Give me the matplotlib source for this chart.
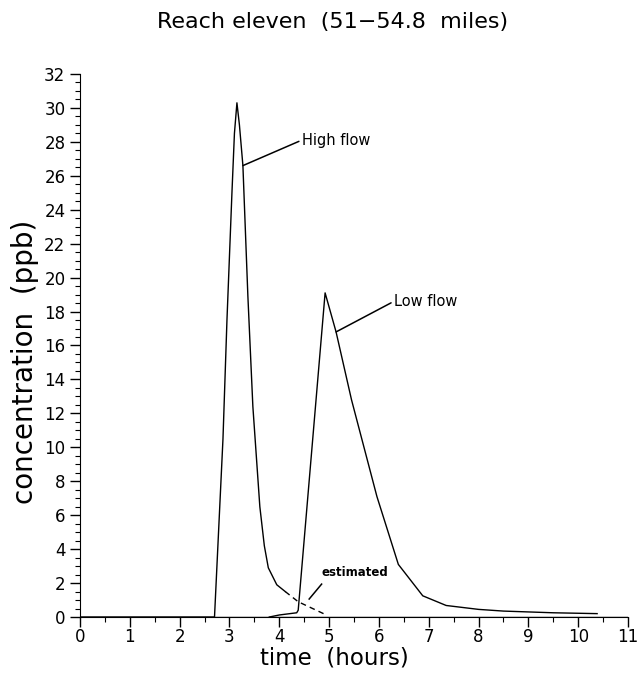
import matplotlib
matplotlib.use("Agg")
import matplotlib.pyplot as plt
from matplotlib.ticker import MultipleLocator

# High flow curve (measured)
high_t = [0.0, 2.70, 2.87, 2.95, 3.05, 3.10, 3.15, 3.20, 3.27, 3.37, 3.47, 3.61, 3.70, 3.78, 3.95, 4.12]
high_c = [0.0, 0.0, 10.5, 17.5, 25.0, 28.5, 30.3, 29.0, 26.6, 18.9, 12.4, 6.5, 4.2, 2.9, 1.9, 1.5]

# High flow tail (estimated, dashed)
est_t = [4.12, 4.38, 4.96]
est_c = [1.5, 0.9, 0.1]

# Low flow curve
low_t = [3.80, 4.00, 4.35, 4.38, 4.92, 5.14, 5.45, 5.96, 6.39, 6.88, 7.35, 8.0, 8.5, 9.0, 9.5, 10.38]
low_c = [0.0, 0.12, 0.25, 0.4, 19.1, 16.8, 12.8, 7.1, 3.1, 1.25, 0.68, 0.45, 0.35, 0.3, 0.25, 0.2]

fig = plt.figure(figsize=(6.43, 6.83), dpi=100)
ax = fig.add_axes([0.1244, 0.0966, 0.8523, 0.7951])

ax.plot(high_t, high_c, color="black", lw=1.0)
ax.plot(est_t, est_c, color="black", lw=1.0, ls=(0, (4, 3)))
ax.plot(low_t, low_c, color="black", lw=1.0)
ax.axhline(0, color="black", lw=1.0)

# annotations
ax.annotate("High flow", xy=(3.27, 26.6), xytext=(4.45, 28.1),
            fontsize=10.5, va="center", ha="left",
            arrowprops=dict(arrowstyle="-", color="black", lw=1.1,
                            shrinkA=0, shrinkB=0, relpos=(0, 0.5)))
ax.annotate("Low flow", xy=(5.14, 16.8), xytext=(6.3, 18.6),
            fontsize=10.5, va="center", ha="left",
            arrowprops=dict(arrowstyle="-", color="black", lw=1.1,
                            shrinkA=0, shrinkB=0, relpos=(0, 0.5)))
ax.plot([4.6, 4.85], [1.06, 1.94], color="black", lw=1.1)
ax.text(4.85, 2.65, "estimated", fontsize=8.5, fontweight="bold",
        ha="left", va="center")

ax.set_xlim(0, 11)
ax.set_ylim(0, 32)
ax.xaxis.set_major_locator(MultipleLocator(1))
ax.xaxis.set_minor_locator(MultipleLocator(0.5))
ax.yaxis.set_major_locator(MultipleLocator(2))
ax.yaxis.set_minor_locator(MultipleLocator(0.5))
ax.spines["top"].set_visible(False)
ax.spines["right"].set_visible(False)
ax.tick_params(which="major", direction="out", length=7, width=1, labelsize=12)
ax.tick_params(which="minor", direction="out", length=3.5, width=0.8)
ax.tick_params(axis="x", which="major", pad=1)

ax.set_xlabel("time  (hours)", fontsize=16.5)
ax.set_ylabel("concentration  (ppb)", fontsize=20)
ax.xaxis.set_label_coords(0.465, -0.054)
ax.yaxis.set_label_coords(-0.075, 0.47)
fig.text(0.517, 0.968, "Reach eleven  (51\u221254.8  miles)", fontsize=16,
         ha="center", va="center")

fig.savefig("out.png", dpi=100)
